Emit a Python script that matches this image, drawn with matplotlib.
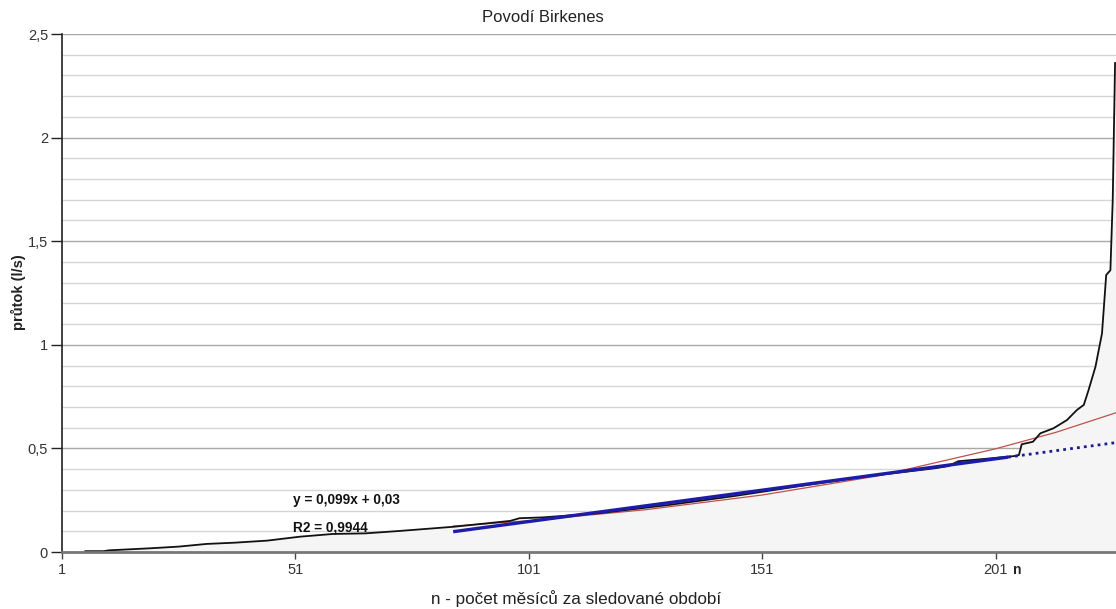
import matplotlib.pyplot as plt
import numpy as np

# sorted monthly flows (duration curve), n = month rank
n_rank = [6, 10, 11, 20, 26, 32, 38, 45, 52, 59, 66, 73, 85, 97, 99, 104, 116, 131,
          145, 159, 173, 188, 191, 193, 199, 205, 206, 206.6, 209, 210.6, 213.4,
          216.3, 218.4, 219.9, 220.9, 222.4, 223.8, 224.7, 225.6, 226.1, 226.6]
flow = [0.004, 0.004, 0.008, 0.018, 0.026, 0.039, 0.045, 0.055, 0.074, 0.087, 0.09, 0.101,
        0.122, 0.150, 0.163, 0.167, 0.187, 0.227, 0.27, 0.318, 0.364, 0.404, 0.415,
        0.438, 0.45, 0.463, 0.468, 0.52, 0.532, 0.573, 0.597, 0.637, 0.685, 0.71,
        0.78, 0.894, 1.055, 1.337, 1.36, 1.70, 2.36]

# linear trend (fitted range) and its extension
lin_n = [84.8, 203.7]
lin_q = [0.098, 0.458]
lin_ext_n = [203.7, 226.8]
lin_ext_q = [0.458, 0.528]

# exponential trend
exp_n = [84.8, 101, 126, 151, 176, 201, 214, 226.8]
exp_q = [0.125, 0.151, 0.204, 0.275, 0.368, 0.498, 0.578, 0.672]

x_ticks = [1, 51, 101, 151, 201]
y_ticks = [0, 0.5, 1, 1.5, 2, 2.5]
y_labels = ["0", "0,5", "1", "1,5", "2", "2,5"]

plt.rcParams["font.family"] = ["Liberation Sans", "DejaVu Sans"]

fig = plt.figure(figsize=(11.16, 6.09), dpi=100)
ax = fig.add_axes([62 / 1116, 1 - 552 / 609, 1 - 62 / 1116, (552 - 34) / 609])

ax.set_xlim(1, 226.8)
ax.set_ylim(0, 2.5)

# grid: major every 0.5, minor every 0.1
ax.set_yticks(y_ticks)
ax.set_yticklabels(y_labels)
ax.set_yticks(np.arange(0, 2.51, 0.1), minor=True)
ax.grid(axis="y", which="major", color="#a8a8a8", linewidth=1.0, zorder=0)
ax.grid(axis="y", which="minor", color="#d6d6d6", linewidth=1.0, zorder=0)
ax.set_axisbelow(True)

# area under the flow curve, extended to the right edge
fill_n = n_rank + [226.8]
fill_q = flow + [2.36]
ax.fill_between(fill_n, fill_q, 0, color="#f5f5f5", zorder=1, linewidth=0)
ax.plot(n_rank, flow, color="#111111", linewidth=1.3, zorder=4)

ax.plot(exp_n, exp_q, color="#c0504d", linewidth=0.9, zorder=3)
ax.plot(lin_n, lin_q, color="#1c1ca8", linewidth=2.4, zorder=5, solid_capstyle="butt")
ax.plot(lin_ext_n, lin_ext_q, color="#1c1c8c", linewidth=2.0, linestyle=(0, (1, 1.5)), zorder=5)

ax.set_xticks(x_ticks)
ax.tick_params(axis="y", which="major", length=8, width=1, color="#222222",
               labelsize=10.5, labelcolor="#333333", pad=2)
ax.tick_params(axis="y", which="minor", length=0)
ax.tick_params(axis="x", length=5, width=1, color="#444444",
               labelsize=10.5, labelcolor="#333333", pad=3)

for s in ["top", "right"]:
    ax.spines[s].set_visible(False)
ax.spines["left"].set_color("#222222")
ax.spines["left"].set_linewidth(1.2)
ax.spines["bottom"].set_color("#777777")
ax.spines["bottom"].set_linewidth(2)
ax.spines["bottom"].set_zorder(6)

fig.text(543 / 1116, 1 - 18 / 609, "Povodí Birkenes", ha="center", va="center",
         fontsize=12, color="#222222")
fig.text(18 / 1116, 1 - 292 / 609, "průtok (l/s)", rotation=90, ha="center",
         va="center", fontsize=10.5, fontweight="bold", color="#222222")
fig.text(576 / 1116, 1 - 599 / 609, "n - počet měsíců za sledované období",
         ha="center", va="center", fontsize=12.3, color="#222222")
fig.text(1017 / 1116, 1 - 570 / 609, "n", ha="center", va="center",
         fontsize=10, fontweight="bold", color="#222222")

ax.text(293 / 1116, 1 - 500 / 609, "y = 0,099x + 0,03", transform=fig.transFigure,
        ha="left", va="center", fontsize=9.8, fontweight="bold", color="#111111")
ax.text(293 / 1116, 1 - 527 / 609, "R2 = 0,9944", transform=fig.transFigure,
        ha="left", va="center", fontsize=9.8, fontweight="bold", color="#111111")

fig.savefig("out.png", dpi=100)
